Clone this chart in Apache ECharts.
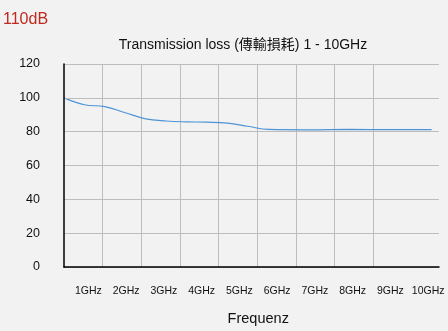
<!DOCTYPE html>
<html><head><meta charset="utf-8">
<script src="https://cdn.jsdelivr.net/npm/echarts@6/dist/echarts.min.js"></script>
<style>html,body{margin:0;padding:0;background:#f2f2f2}#c{width:448px;height:331px}</style>
</head><body><div id="c"></div>
<script>
var freqLabels = ['1GHz','2GHz','3GHz','4GHz','5GHz','6GHz','7GHz','8GHz','9GHz','10GHz'];
var freqs = [1, 1.5, 2, 2.5, 3, 3.5, 4, 4.5, 5, 5.5, 6, 7, 8, 9, 10];
var loss = [100, 95.9, 94.8, 91.2, 87.6, 86.3, 85.8, 85.6, 85.0, 83.2, 81.3, 81.1, 81.3, 81.2, 81.2];
var yTicks = [0, 20, 40, 60, 80, 100, 120];

var font = '"Liberation Sans", Arial, "Noto Sans CJK TC", sans-serif';
var chart = echarts.init(document.getElementById('c'), null, {renderer: 'canvas'});
chart.setOption({
  backgroundColor: '#f2f2f2',
  animation: false,
  textStyle: {fontFamily: font},
  title: [
    {text: '110dB', left: -2, top: 7, textStyle: {fontFamily: font, fontSize: 16, fontWeight: 'normal', color: '#c0291f'}},
    {text: 'Transmission loss (傳輸損耗) 1 - 10GHz', left: 238, top: 33, textAlign: 'center',
     textStyle: {fontFamily: font, fontSize: 14, fontWeight: 'normal', color: '#111'}}
  ],
  grid: [
    {left: 64, right: 9, top: 64, bottom: 64},
    {left: 64, right: 75, top: 64, bottom: 64},
    {left: 69.5, right: 1, top: 64, bottom: 64}
  ],
  xAxis: [
    {type: 'value', gridIndex: 0, min: 1, max: 10.18, z: 5,
     axisLine: {show: true, lineStyle: {color: '#000', width: 1.5}},
     axisTick: {show: false}, axisLabel: {show: false}, splitLine: {show: false}},
    {type: 'value', gridIndex: 1, min: 0, max: 8, interval: 1,
     axisLine: {show: false}, axisTick: {show: false}, axisLabel: {show: false},
     splitLine: {show: true, showMinLine: false, lineStyle: {color: '#bdbdbd', width: 1}}},
    {type: 'category', gridIndex: 2, data: freqLabels, boundaryGap: true,
     axisLine: {show: false}, axisTick: {show: false}, splitLine: {show: false},
     axisLabel: {show: true, interval: 0, margin: 21, fontSize: 10.5, color: '#111', fontFamily: font},
     name: 'Frequenz', nameLocation: 'middle', nameGap: 47,
     nameTextStyle: {fontSize: 14.5, color: '#111', fontFamily: font}}
  ],
  yAxis: [
    {type: 'value', gridIndex: 0, min: yTicks[0], max: yTicks[yTicks.length - 1], interval: 20, z: 5,
     axisLine: {show: true, lineStyle: {color: '#000', width: 1.5}},
     axisTick: {show: false},
     axisLabel: {margin: 24, fontSize: 12.5, color: '#111', fontFamily: font, padding: [8, 0, 0, 0]},
     splitLine: {show: true, lineStyle: {color: '#bdbdbd', width: 1}}},
    {type: 'value', gridIndex: 1, show: false, min: 0, max: 120},
    {type: 'value', gridIndex: 2, show: false, min: 0, max: 120}
  ],
  series: [{
    type: 'line', xAxisIndex: 0, yAxisIndex: 0, z: 4,
    data: freqs.map(function (f, i) { return [f, loss[i]]; }),
    smooth: 0.4, showSymbol: false,
    lineStyle: {color: '#4d94d6', width: 1.2}
  }]
});
</script></body></html>
